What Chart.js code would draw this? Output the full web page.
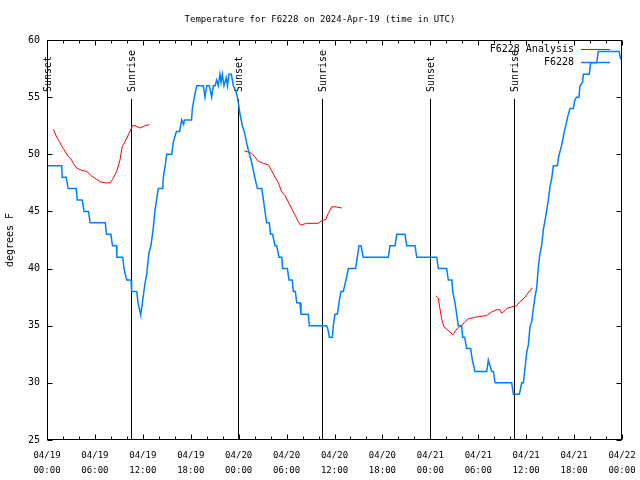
<!DOCTYPE html>
<html>
<head>
<meta charset="utf-8">
<script src="https://cdn.jsdelivr.net/npm/chart.js@4"></script>
<style>
  body { margin: 0; background: #fff; }
  canvas { display: block; }
</style>
</head>
<body>
<canvas id="tempChart" width="640" height="480"></canvas>
<script>
// hours since 04/19 00:00 UTC
const obsHours = [0.0, 1.84, 1.9, 2.4, 2.65, 3.65, 3.8, 4.4, 4.65, 5.2, 5.4, 7.3, 7.45, 8.0, 8.2, 8.7, 8.75, 9.48, 9.64, 9.98, 10.52, 10.6, 11.23, 11.4, 11.65, 11.72, 11.85,
  11.98, 12.27, 12.48, 12.77, 13.02, 13.3, 13.52, 13.94, 14.07, 14.49, 14.57, 14.8, 14.99, 15.61, 15.8, 16.2, 16.6, 16.87, 17.1, 17.2, 18.1, 18.2, 18.45, 18.75, 19.57, 19.78, 20.0, 20.33, 20.62, 20.83,
  21.05, 21.25, 21.45, 21.66, 21.8, 21.95, 22.16, 22.45, 22.6, 22.79, 23.08, 23.33, 23.67, 23.83, 23.96, 24.17, 24.46, 24.7, 25.0, 25.2, 25.55, 25.84, 26.05, 26.34, 26.9,
  27.1, 27.3, 27.5, 27.84, 28.0, 28.25, 28.55, 28.76, 29.05, 29.4, 29.5, 30.1, 30.3, 30.7, 30.85, 31.1, 31.27, 31.68, 31.8, 32.72, 32.85, 35.02, 35.2, 35.35, 35.73, 35.85,
  36.06, 36.35, 36.56, 36.81, 37.1, 37.44, 37.73, 38.65, 38.86, 39.07, 39.32, 39.6, 42.74, 42.95, 43.58, 43.79, 44.83, 45.04, 46.08, 46.3, 48.8, 49.0, 50.05, 50.25, 50.7,
  50.8, 51.09, 51.3, 51.5, 51.92, 52.05, 52.3, 52.55, 53.05, 53.26, 53.6, 55.06, 55.26, 55.47, 55.68, 55.9, 56.1, 58.19, 58.4, 59.15, 59.44, 59.65, 59.86, 60.07, 60.27,
  60.48, 60.7, 60.9, 61.1, 61.32, 61.53, 61.73, 61.94, 62.15, 62.36, 62.57, 62.78, 62.99, 63.2, 63.4, 63.9, 64.1, 64.45, 64.78, 64.99, 65.2, 65.49, 65.9, 66.1, 66.3,
  66.6, 66.74, 67.07, 67.15, 67.9, 68.08, 68.83, 69.03, 71.63, 71.84];
const obsTemps = [49, 49, 48, 48, 47, 47, 46, 46, 45, 45, 44, 44, 43, 43, 42, 42, 41, 41, 40, 39, 39, 38, 38, 37, 36.2, 36, 36.5,
  37.2, 38.7, 39.5, 41.4, 42, 43.5, 45.1, 47, 47, 47, 48, 49, 50, 50, 51, 52, 52, 53, 52.6, 53, 53, 54, 55, 56, 56, 55, 56, 56, 55, 56,
  56, 56.5, 56, 57, 56.3, 57, 56, 56.7, 56, 57, 57, 56, 55.5, 55, 54.5, 53.5, 52.5, 52, 51, 50.4, 49.5, 48.6, 47.9, 47, 47,
  46, 45, 44, 44, 43, 43, 42, 42, 41, 41, 40, 40, 39, 39, 38, 38, 37, 37, 36, 36, 35, 35, 34.6, 34, 34, 35,
  36, 36, 37, 38, 38, 39, 40, 40, 41, 42, 42, 41, 41, 42, 42, 43, 43, 42, 42, 41, 41, 40, 40, 39, 39,
  38, 37, 36, 35, 35, 34, 34, 33, 33, 32, 31, 31, 32, 31.5, 31, 31, 30, 30, 29, 29, 30, 30, 31.3, 32.7, 33.3,
  34.9, 35.4, 36.5, 37.5, 38.3, 40.2, 41.3, 42, 43.4, 44.2, 45.1, 46, 47.2, 47.9, 49, 49, 49.9, 50.8, 52, 52.6, 53.3, 54, 54, 54.75, 55,
  55, 56, 56.3, 57, 57, 58, 58, 59, 59, 58.3];

// analysis runs, null breaks the line between runs
const anaHours = [0.79, 1.21, 1.63, 2.04, 2.67, 3.0, 3.3, 3.7, 4.34, 4.97, 5.6, 6.22, 6.64, 7.26, 7.9, 8.3, 8.72, 9.14, 9.43, 9.77, 10.18, 10.52, 10.7, 11.02, 11.65, 12.27, 12.81,
  18.0,
  24.71, 25.2, 25.6, 26.0, 26.46, 27.09, 27.7, 28.1, 28.55, 28.97, 29.39, 29.8, 30.2, 30.6, 31.05, 31.47, 31.77, 32.52, 33.97, 34.4, 34.9, 35.2, 35.65, 36.2, 36.9,
  42.0,
  48.67, 49.0, 49.2, 49.4, 49.7, 50.25, 50.8, 51.2, 51.5, 51.92, 52.34, 52.76, 53.38, 54.0, 54.63, 55.06, 55.68, 56.3, 56.72, 56.93, 57.15, 57.56, 58.19, 58.8, 59.23, 59.86, 60.48, 60.82];
const anaTemps = [52.2, 51.5, 51.0, 50.5, 49.8, 49.6, 49.2, 48.8, 48.6, 48.5, 48.1, 47.8, 47.6, 47.5, 47.5, 47.9, 48.5, 49.5, 50.7, 51.1, 51.7, 52.2, 52.5, 52.5, 52.3, 52.5, 52.6,
  null,
  50.3, 50.2, 50.1, 49.8, 49.4, 49.2, 49.1, 48.6, 48.0, 47.5, 46.7, 46.4, 45.85, 45.3, 44.7, 44.1, 43.8, 43.96, 43.96, 44.2, 44.3, 44.8, 45.4, 45.4, 45.3,
  null,
  37.6, 37.4, 36.5, 35.65, 34.9, 34.6, 34.2, 34.6, 34.85, 35.0, 35.35, 35.6, 35.7, 35.8, 35.85, 35.9, 36.2, 36.4, 36.4, 36.1, 36.2, 36.5, 36.65, 36.75, 37.1, 37.5, 38.1, 38.3];

const sunHours = [0.04, 10.56, 23.96, 34.48, 48.0, 58.52];
const sunLabels = ['Sunset', 'Sunrise', 'Sunset', 'Sunrise', 'Sunset', 'Sunrise'];

const xTickDates = ['04/19', '04/19', '04/19', '04/19', '04/20', '04/20', '04/20', '04/20', '04/21', '04/21', '04/21', '04/21', '04/22'];
const xTickTimes = ['00:00', '06:00', '12:00', '18:00', '00:00', '06:00', '12:00', '18:00', '00:00', '06:00', '12:00', '18:00', '00:00'];

const FONT = "'DejaVu Sans Mono', monospace";

function toPoints(xs, ys) {
    return xs.map((h, i) => ({ x: h, y: ys[i] }));
}

// gnuplot style frame, inward ticks, sun markers, legend and title
const gnuplotLook = {
    id: 'gnuplotLook',
    beforeDraw(chart) {
        const ctx = chart.ctx;
        ctx.save();
        ctx.fillStyle = '#fff';
        ctx.fillRect(0, 0, chart.width, chart.height);
        ctx.restore();
    },
    beforeDatasetsDraw(chart) {
        const ctx = chart.ctx;
        const x = chart.scales.x, y = chart.scales.y;
        ctx.save();
        ctx.strokeStyle = '#000';
        ctx.lineWidth = 1;
        ctx.fillStyle = '#000';
        ctx.font = '10px ' + FONT;
        const yTop = y.getPixelForValue(54.85);
        const yLab = y.getPixelForValue(55.45);
        sunHours.forEach((h, i) => {
            const px = Math.round(x.getPixelForValue(h)) + 0.5;
            ctx.beginPath();
            ctx.moveTo(px, yTop);
            ctx.lineTo(px, y.bottom);
            ctx.stroke();
            ctx.save();
            ctx.translate(px + 1, yLab);
            ctx.rotate(-Math.PI / 2);
            ctx.textAlign = 'left';
            ctx.textBaseline = 'middle';
            ctx.fillText(sunLabels[i], 0, 0);
            ctx.restore();
        });
        ctx.restore();
    },
    afterDraw(chart) {
        const ctx = chart.ctx;
        const a = chart.chartArea;
        const x = chart.scales.x, y = chart.scales.y;
        ctx.save();
        ctx.strokeStyle = '#000';
        ctx.lineWidth = 1;
        const L = Math.round(a.left) + 0.5, R = Math.round(a.right) - 0.5;
        const T = Math.round(a.top) + 0.5, B = Math.round(a.bottom) - 0.5;
        ctx.strokeRect(L, T, R - L, B - T);
        ctx.beginPath();
        for (let h = 0; h <= 72; h += 2) {
            const px = Math.round(x.getPixelForValue(h)) + 0.5;
            const len = h % 6 === 0 ? 5 : 3;
            ctx.moveTo(px, B); ctx.lineTo(px, B - len);
            ctx.moveTo(px, T); ctx.lineTo(px, T + len);
        }
        for (let v = 25; v <= 60; v += 5) {
            const py = Math.round(y.getPixelForValue(v)) + 0.5;
            ctx.moveTo(L, py); ctx.lineTo(L + 5, py);
            ctx.moveTo(R, py); ctx.lineTo(R - 5, py);
        }
        ctx.stroke();

        // legend
        ctx.font = '10px ' + FONT;
        ctx.textAlign = 'right';
        ctx.textBaseline = 'middle';
        ctx.fillStyle = '#000';
        const order = [1, 0];
        order.forEach((di, row) => {
            const ds = chart.data.datasets[di];
            const ly = 49 + row * 13;
            ctx.fillText(ds.label, 574, ly);
            ctx.strokeStyle = ds.borderColor;
            ctx.lineWidth = ds.borderWidth;
            ctx.beginPath();
            ctx.moveTo(581, ly + 0.5);
            ctx.lineTo(610, ly + 0.5);
            ctx.stroke();
        });

        // title
        ctx.font = '9px ' + FONT;
        ctx.textAlign = 'center';
        ctx.fillStyle = '#000';
        ctx.fillText('Temperature for F6228 on 2024-Apr-19 (time in UTC)', 320, 20);
        ctx.restore();
    }
};

new Chart(document.getElementById('tempChart'), {
    type: 'line',
    data: {
        datasets: [{
            label: 'F6228',
            data: toPoints(obsHours, obsTemps),
            borderColor: 'rgb(0, 128, 255)',
            borderWidth: 1.5,
            pointRadius: 0,
            fill: false,
            tension: 0,
            order: 0
        }, {
            label: 'F6228 Analysis',
            data: toPoints(anaHours, anaTemps),
            borderColor: 'rgb(255, 0, 0)',
            borderWidth: 1,
            pointRadius: 0,
            fill: false,
            tension: 0,
            spanGaps: false,
            order: 1
        }]
    },
    options: {
        responsive: false,
        animation: false,
        layout: { padding: { top: 40, right: 18, left: 0, bottom: 0 } },
        plugins: {
            legend: { display: false },
            title: { display: false },
            tooltip: { enabled: false }
        },
        scales: {
            x: {
                type: 'linear',
                min: 0,
                max: 72,
                grid: { display: false, drawTicks: false },
                border: { display: false },
                ticks: {
                    stepSize: 6,
                    autoSkip: false,
                    maxRotation: 0,
                    padding: 8,
                    color: '#000',
                    font: { family: FONT, size: 9, lineHeight: 1.7 },
                    callback: v => [xTickDates[v / 6], xTickTimes[v / 6]]
                },
                afterFit: s => {
                    s.height = 40;
                    s.paddingLeft = 0;
                    s.paddingRight = 0;
                }
            },
            y: {
                min: 25,
                max: 60,
                grid: { display: false, drawTicks: false },
                border: { display: false },
                ticks: {
                    stepSize: 5,
                    padding: 7,
                    color: '#000',
                    font: { family: FONT, size: 10 }
                },
                title: {
                    display: true,
                    text: 'degrees F',
                    color: '#000',
                    font: { family: FONT, size: 10 },
                    padding: { top: 4, bottom: 0 }
                },
                afterFit: s => {
                    s.width = 47;
                    s.paddingTop = 0;
                    s.paddingBottom = 0;
                }
            }
        }
    },
    plugins: [gnuplotLook]
});
</script>
</body>
</html>
